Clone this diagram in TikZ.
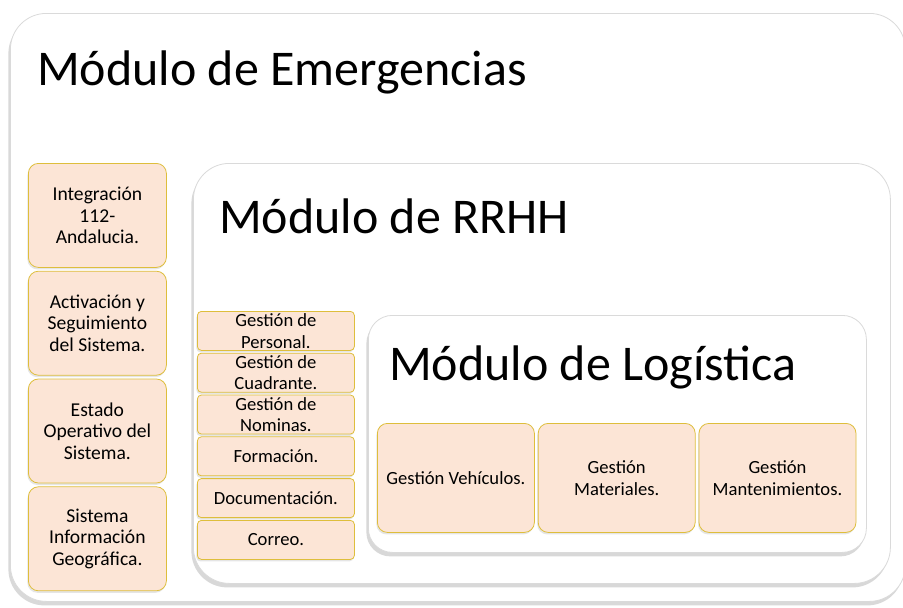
\documentclass[tikz,border=0pt]{standalone}
\usepackage{fontspec}
\setmainfont{Carlito}
\usetikzlibrary{positioning,shadows}
\definecolor{cellfill}{RGB}{252,229,214}
\definecolor{celldraw}{RGB}{222,190,60}
\definecolor{framedraw}{RGB}{218,218,218}
\tikzset{
    module/.style={
        rectangle,
        draw=framedraw,
        thick,
        fill=white,
        rounded corners=36pt,
        anchor=north west,
        drop shadow={shadow xshift=-2pt, shadow yshift=-4pt, fill=black!25, opacity=.6}
    },
    title/.style={
        anchor=base west,
        inner sep=0pt,
        font=\fontsize{50}{60}\selectfont
    },
    cell/.style={
        rectangle,
        draw=celldraw,
        thick,
        fill=cellfill,
        align=center,
        inner sep=0pt,
        font=\fontsize{18.6}{21.7}\selectfont,
        drop shadow={shadow xshift=-1pt, shadow yshift=-2pt, fill=black!20, opacity=.5}
    },
    bigcell/.style={
        cell,
        rounded corners=10pt,
        minimum width=138pt,
        minimum height=104pt,
        font=\fontsize{19.6}{21.7}\selectfont
    },
    thincell/.style={
        cell,
        rounded corners=4pt,
        minimum width=157pt,
        minimum height=39pt
    },
    logcell/.style={
        cell,
        rounded corners=10pt,
        minimum width=157pt,
        minimum height=109pt
    }
}

\begin{document}
\begin{tikzpicture}[x=1pt, y=-1pt]

\useasboundingbox (0,0) rectangle (903,608);

% containers
\node[module, minimum width=895pt, minimum height=588pt] (emerg) at (10,13) {};
\node[title] (emergtitle) at (37,85) {Módulo de Emergencias};

\node[module, minimum width=697pt, minimum height=420pt] (rrhh) at (193,163) {};
\node[title] (rrhhtitle) at (219,233) {Módulo de RRHH};

\node[module, rounded corners=24pt, minimum width=498pt, minimum height=237pt] (logis) at (368,315) {};
\node[title] (logistitle) at (389,380) {Módulo de Logística};

% emergencias column
\node[bigcell, anchor=north west] (integ) at (28,163) {Integración\\112-\\Andalucia.};
\node[bigcell, below=3pt of integ] (activ) {Activación y\\Seguimiento\\del Sistema.};
\node[bigcell, below=3pt of activ] (estado) {Estado\\Operativo del\\Sistema.};
\node[bigcell, below=3pt of estado] (sig) {Sistema\\Información\\Geográfica.};

% rrhh column
\node[thincell, anchor=north west] (personal) at (197,311) {Gestión de\\Personal.};
\node[thincell, below=2pt of personal] (cuadrante) {Gestión de\\Cuadrante.};
\node[thincell, below=2pt of cuadrante] (nominas) {Gestión de\\Nominas.};
\node[thincell, below=2pt of nominas] (formacion) {Formación.};
\node[thincell, below=2pt of formacion] (docu) {Documentación.};
\node[thincell, below=2pt of docu] (correo) {Correo.};

% logistica row
\node[logcell, anchor=north west] (vehic) at (377,423) {Gestión Vehículos.};
\node[logcell, right=3pt of vehic] (mater) {Gestión\\Materiales.};
\node[logcell, right=3pt of mater] (mante) {Gestión\\Mantenimientos.};

\end{tikzpicture}
\end{document}
